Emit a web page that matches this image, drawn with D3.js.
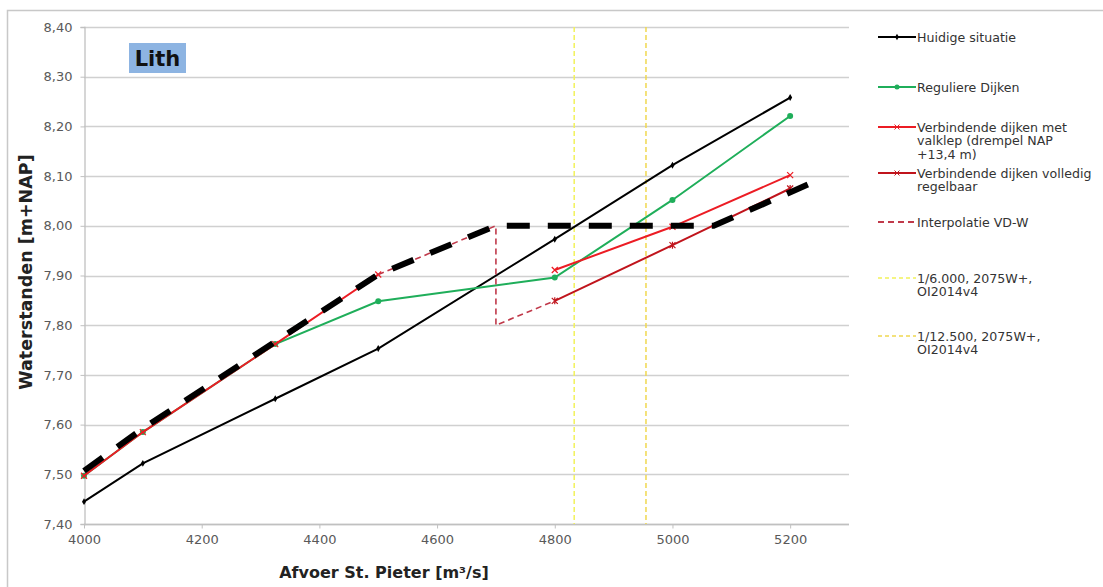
<!DOCTYPE html>
<html>
<head>
<meta charset="utf-8">
<script src="https://cdn.jsdelivr.net/npm/d3@7"></script>
<style>
    body { margin: 0; background: #fff; }
    svg { display: block; font-family: "DejaVu Sans", Verdana, sans-serif; }
</style>
</head>
<body>
<svg width="1103" height="587"></svg>
<script>
// afvoer St. Pieter (m3/s); 4700 only used as gap in the valklep series
const afvoer = [4000, 4100, 4325, 4500, 4700, 4800, 5000, 5200];
const huidig = [7.445, 7.522, 7.652, 7.753, null, 7.973, 8.122, 8.258];
const regulier = [7.497, 7.585, 7.762, 7.848, null, 7.896, 8.052, 8.221];
const valklep = [7.497, 7.585, 7.762, 7.902, null, 7.911, 7.998, 8.102];
const regelbaar = [null, null, null, null, null, 7.849, 7.961, 8.075];

const interpX = [4500, 4700, 4700, 4800];
const interpY = [7.902, 8.00, 7.80, 7.849];

// dikke zwarte stippellijn (omhullende)
const omhulX = [4000, 4100, 4325, 4500, 4700, 5070, 5230];
const omhulY = [7.507, 7.592, 7.767, 7.902, 8.00, 8.00, 8.083];

const afvoer6000 = 4833;
const afvoer12500 = 4955;

const xTicks = [4000, 4200, 4400, 4600, 4800, 5000, 5200];
const yTicks = [7.4, 7.5, 7.6, 7.7, 7.8, 7.9, 8.0, 8.1, 8.2, 8.3, 8.4];

const legendNames = [
    ["Huidige situatie"],
    ["Reguliere Dijken"],
    ["Verbindende dijken met", "valklep (drempel NAP", "+13,4 m)"],
    ["Verbindende dijken volledig", "regelbaar"],
    ["Interpolatie VD-W"],
    ["1/6.000, 2075W+,", "OI2014v4"],
    ["1/12.500, 2075W+,", "OI2014v4"]
];

const svg = d3.select("svg");

const area = { left: 84, right: 849, top: 27, bottom: 524 };

const scX = d3.scaleLinear().domain([4000, 5300]).range([area.left, area.right]);
const scY = d3.scaleLinear().domain([7.4, 8.4]).range([area.bottom, area.top]);

const komma = v => d3.format(".2f")(v).replace(".", ",");

// kader om de grafiek
svg.append("path")
    .attr("d", "M7.5,587 V10.5 H1103")
    .attr("fill", "none")
    .attr("stroke", "#c8c8c8")
    .attr("stroke-width", 1.5);

// rasterlijnen
svg.append("g")
    .selectAll("line")
    .data(yTicks)
    .enter()
    .append("line")
    .attr("x1", area.left)
    .attr("x2", area.right)
    .attr("y1", d => Math.round(scY(d)) + 0.5)
    .attr("y2", d => Math.round(scY(d)) + 0.5)
    .attr("stroke", "#d0d0d0")
    .attr("stroke-width", 1.3);

// assen
const axisX = svg.append("g")
    .attr("transform", `translate(0, ${Math.round(area.bottom) + 0.5})`)
    .call(d3.axisBottom(scX).tickValues(xTicks).tickFormat(d3.format("d")).tickSize(4).tickPadding(6));

const axisY = svg.append("g")
    .attr("transform", `translate(${area.left + 0.5}, 0)`)
    .call(d3.axisLeft(scY).tickValues(yTicks).tickFormat(komma).tickSize(4).tickPadding(8));

[axisX, axisY].forEach(ax => {
    ax.select(".domain").attr("stroke", "#c0c0c0").attr("stroke-width", 1.3);
    ax.selectAll(".tick line").attr("stroke", "#c0c0c0");
    ax.selectAll("text").attr("fill", "#595959").style("font-size", "13px").style("font-family", "DejaVu Sans, Verdana, sans-serif");
});
axisX.select(".domain").attr("d", `M${area.left},0H${area.right}`);

// aslabels
svg.append("text")
    .attr("x", 384)
    .attr("y", 578)
    .attr("text-anchor", "middle")
    .attr("font-weight", "bold")
    .attr("font-size", 16)
    .attr("fill", "#222")
    .text("Afvoer St. Pieter [m³/s]");

svg.append("text")
    .attr("transform", "translate(32, 272) rotate(-90)")
    .attr("text-anchor", "middle")
    .attr("font-weight", "bold")
    .attr("font-size", 17.5)
    .attr("fill", "#222")
    .text("Waterstanden [m+NAP]");

// titel
svg.append("rect")
    .attr("x", 129).attr("y", 43)
    .attr("width", 57).attr("height", 30)
    .attr("fill", "#8db4e2");
svg.append("text")
    .attr("x", 157.5).attr("y", 66)
    .attr("text-anchor", "middle")
    .attr("font-weight", "bold")
    .attr("font-size", 21)
    .attr("fill", "#111")
    .text("Lith");

// herhalingstijden (verticale lijnen)
const vLines = [
    { x: afvoer6000, color: "#f2f25a" },
    { x: afvoer12500, color: "#f0d850" }
];
svg.append("g")
    .selectAll("line")
    .data(vLines)
    .enter()
    .append("line")
    .attr("x1", d => scX(d.x))
    .attr("x2", d => scX(d.x))
    .attr("y1", area.top)
    .attr("y2", area.bottom)
    .attr("stroke", d => d.color)
    .attr("stroke-width", 1.5)
    .attr("stroke-dasharray", "5,3");

function series(values) {
    return afvoer.map((x, i) => ({ x: x, y: values[i] }));
}

const line = d3.line()
    .defined(d => d.y !== null)
    .x(d => scX(d.x))
    .y(d => scY(d.y));

function drawMarkers(pts, type, color) {
    const g = svg.append("g");
    pts.forEach(p => {
        const cx = scX(p.x), cy = scY(p.y);
        if (type === "circle") {
            g.append("circle").attr("cx", cx).attr("cy", cy).attr("r", 3).attr("fill", color);
        } else if (type === "diamond") {
            g.append("path").attr("d", d3.symbol(d3.symbolDiamond, 14)()).attr("transform", `translate(${cx},${cy})`).attr("fill", color);
        } else if (type === "cross") {
            g.append("path").attr("d", "M-3,-3L3,3M-3,3L3,-3").attr("transform", `translate(${cx},${cy})`)
                .attr("stroke", color).attr("stroke-width", 1.2).attr("fill", "none");
        } else if (type === "star") {
            g.append("path").attr("d", "M-3,-3L3,3M-3,3L3,-3M0,-3.5V3.5").attr("transform", `translate(${cx},${cy})`)
                .attr("stroke", color).attr("stroke-width", 1.2).attr("fill", "none");
        }
    });
}

const black = "#000000", green = "#1fae5a", red = "#ec1c24", darkRed = "#c0141c", interpColor = "#c0394a";

// huidige situatie
const huidigPts = series(huidig).filter(d => d.y !== null);
svg.append("path").datum(huidigPts).attr("d", line).attr("fill", "none").attr("stroke", black).attr("stroke-width", 2);
drawMarkers(huidigPts, "diamond", black);

// reguliere dijken
const regulierPts = series(regulier).filter(d => d.y !== null);
svg.append("path").datum(regulierPts).attr("d", line).attr("fill", "none").attr("stroke", green).attr("stroke-width", 2);
drawMarkers(regulierPts, "circle", green);

// valklep (met onderbreking)
const valklepPts = series(valklep);
svg.append("path").datum(valklepPts).attr("d", line).attr("fill", "none").attr("stroke", red).attr("stroke-width", 2);
drawMarkers(valklepPts.filter(d => d.y !== null), "cross", red);

// volledig regelbaar
const regelbaarPts = series(regelbaar).filter(d => d.y !== null);
svg.append("path").datum(regelbaarPts).attr("d", line).attr("fill", "none").attr("stroke", darkRed).attr("stroke-width", 2);
drawMarkers(regelbaarPts, "star", darkRed);

// interpolatie
const interpPts = interpX.map((x, i) => ({ x: x, y: interpY[i] }));
svg.append("path").datum(interpPts).attr("d", line).attr("fill", "none")
    .attr("stroke", interpColor).attr("stroke-width", 1.6).attr("stroke-dasharray", "6,4");

// omhullende
const omhulPts = omhulX.map((x, i) => ({ x: x, y: omhulY[i] }));
svg.append("path").datum(omhulPts).attr("d", line).attr("fill", "none")
    .attr("stroke", "#000").attr("stroke-width", 6).attr("stroke-dasharray", "23,18");

// legenda
const legendStyle = [
    { color: black, dash: null, marker: "diamond" },
    { color: green, dash: null, marker: "circle" },
    { color: red, dash: null, marker: "cross" },
    { color: darkRed, dash: null, marker: "star" },
    { color: interpColor, dash: "6,4", marker: null },
    { color: "#f2f25a", dash: "4,3", marker: null },
    { color: "#f0d850", dash: "4,3", marker: null }
];
const legendY = [37, 87, 127, 173, 222, 278, 336];
const lineH = 13.7;

const legend = svg.append("g");
legendNames.forEach((lines, i) => {
    const st = legendStyle[i];
    const y = legendY[i];
    legend.append("line")
        .attr("x1", 878).attr("x2", 916)
        .attr("y1", y).attr("y2", y)
        .attr("stroke", st.color)
        .attr("stroke-width", st.dash && i > 4 ? 1.5 : 2)
        .attr("stroke-dasharray", st.dash);
    if (st.marker === "circle") {
        legend.append("circle").attr("cx", 897).attr("cy", y).attr("r", 2.5).attr("fill", st.color);
    } else if (st.marker === "diamond") {
        legend.append("path").attr("d", d3.symbol(d3.symbolDiamond, 12)()).attr("transform", `translate(897,${y})`).attr("fill", st.color);
    } else if (st.marker) {
        legend.append("path").attr("d", "M-2.5,-2.5L2.5,2.5M-2.5,2.5L2.5,-2.5").attr("transform", `translate(897,${y})`)
            .attr("stroke", st.color).attr("stroke-width", 1);
    }
    const t = legend.append("text")
        .attr("x", 917)
        .attr("y", y + 4.5)
        .attr("font-size", 12.6)
        .attr("fill", "#333");
    lines.forEach((s, j) => {
        t.append("tspan").attr("x", 917).attr("dy", j === 0 ? 0 : lineH).text(s);
    });
});
</script>
</body>
</html>
